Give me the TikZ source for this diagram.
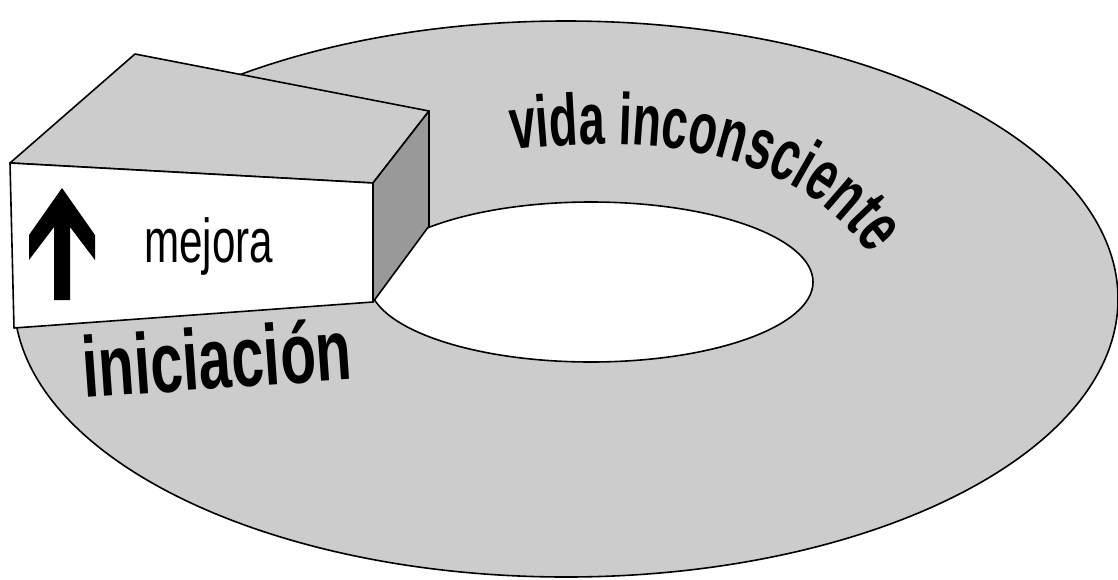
\documentclass[tikz,border=0pt]{standalone}
\usepackage{fontspec}
\setmainfont{Liberation Sans}
\newfontfamily\narrowsans[FakeStretch=0.68]{Liberation Sans}
\newfontfamily\arcsans[FakeStretch=0.64]{Liberation Sans}
\usetikzlibrary{decorations.text}
\definecolor{ringgray}{HTML}{CCCCCC}
\definecolor{sidegray}{HTML}{999999}
\begin{document}
\begin{tikzpicture}[x=1pt,y=-1pt,
  outline/.style={draw=black, line width=1.6pt, line join=round},
  ringface/.style={outline, fill=ringgray},
  holeface/.style={outline, fill=white},
  topface/.style={outline, fill=ringgray},
  sideface/.style={outline, fill=sidegray},
  frontface/.style={outline, fill=white},
  label/.style={inner sep=0pt, anchor=base west, text=black}]
\useasboundingbox (0,0) rectangle (1118,579);
% ring
\path[ringface] (566,299) ellipse [x radius=552, y radius=278];
\path[holeface] (591,282) ellipse [x radius=222, y radius=80];
% box
\coordinate (tbl) at (135,54);
\coordinate (tbr) at (429,111);
\coordinate (ftl) at (10,163);
\coordinate (ftr) at (373,183);
\coordinate (fbr) at (373,302);
\coordinate (fbl) at (14,328);
\coordinate (sbr) at (429,226);
\path[topface] (ftl) -- (tbl) -- (tbr) -- (ftr) -- cycle;
\path[sideface] (ftr) -- (tbr) -- (sbr) -- (fbr) -- cycle;
\path[frontface] (ftl) -- (ftr) -- (fbr) -- (fbl) -- cycle;
% arrow
\fill[black] (62,188) -- (29,235) -- (29,260) -- (54,227) -- (54,300) -- (70,300)
  -- (70,227) -- (95,260) -- (95,235) -- cycle;
% texts
\node[label] (mejora) at (144,262) {\narrowsans\fontsize{62}{70}\selectfont mejora};
\node[label, rotate=4] (iniciacion) at (84,398) {\narrowsans\bfseries\fontsize{86}{92}\selectfont iniciación};
\path[decorate, decoration={text along path, text align=left,
  text={|\arcsans\bfseries\fontsize{73}{80}\selectfont|vida inconsciente}}]
  (512,150) .. controls (650,134) and (800,146) .. (876,264);
\end{tikzpicture}
\end{document}
